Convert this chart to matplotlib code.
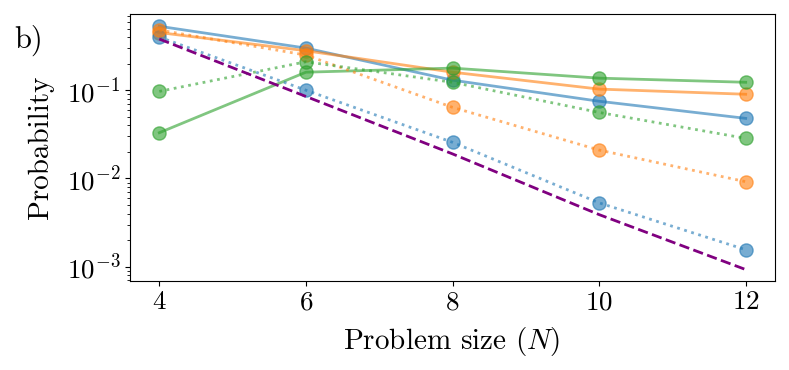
import matplotlib
matplotlib.use("Agg")
import matplotlib.pyplot as plt
import numpy as np

plt.rcParams['font.family'] = 'cmr10'
plt.rcParams['mathtext.fontset'] = 'cm'
plt.rcParams['axes.formatter.use_mathtext'] = True

N = [4, 6, 8, 10, 12]
blue_solid = [0.53, 0.30, 0.13, 0.075, 0.048]
orange_solid = [0.45, 0.28, 0.16, 0.103, 0.090]
green_solid = [0.033, 0.16, 0.178, 0.137, 0.123]
blue_dotted = [0.40, 0.10, 0.0257, 0.0053, 0.00156]
orange_dotted = [0.48, 0.25, 0.064, 0.021, 0.0092]
green_dotted = [0.097, 0.21, 0.123, 0.056, 0.0285]
purple_dashed = [0.38, 0.085, 0.019, 0.0039, 0.00093]

fig = plt.figure(figsize=(7.89, 3.70), dpi=100)
ax = fig.add_axes([130/789, 1-281/370, (775-130)/789, (281-14)/370])

c_blue = '#1f77b4'
c_orange = '#ff7f0e'
c_green = '#2ca02c'
kw = dict(marker='o', markersize=9.5, alpha=0.6, lw=2)
ax.plot(N, blue_solid, color=c_blue, ls='-', **kw)
ax.plot(N, orange_solid, color=c_orange, ls='-', **kw)
ax.plot(N, green_solid, color=c_green, ls='-', **kw)
ax.plot(N, blue_dotted, color=c_blue, ls=':', **kw)
ax.plot(N, orange_dotted, color=c_orange, ls=':', **kw)
ax.plot(N, green_dotted, color=c_green, ls=':', **kw)
ax.plot(N, purple_dashed, color='purple', ls='--', lw=2)

ax.set_yscale('log')
ax.set_xticks(N)
ax.set_xlim(3.6, 12.4)
ax.set_ylim(6.9e-4, 0.73)
ax.tick_params(labelsize=19.5)
ax.set_xlabel('Problem size ($N$)', fontsize=21)
ax.set_ylabel('Probability', fontsize=21)
ax.xaxis.set_label_coords((452-130)/645, -(342-281)/267)
ax.yaxis.set_label_coords(-(130-41)/645, 0.5)
ax.xaxis.label.set_va('center')
ax.yaxis.label.set_va('center')
fig.text(14/789, 1-40/370, 'b)', fontsize=22, va='center', ha='left')

fig.savefig('out.png', dpi=100)
